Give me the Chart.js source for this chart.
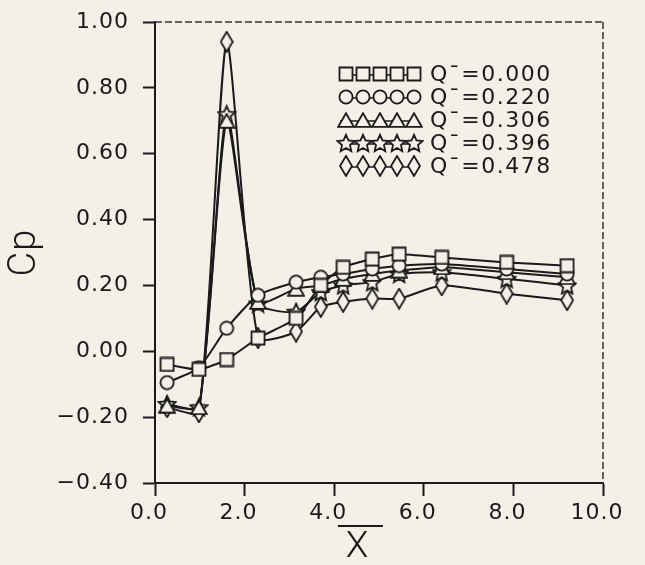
<!DOCTYPE html>
<html>
<head>
<meta charset="utf-8">
<script src="https://cdn.jsdelivr.net/npm/chart.js@4.4.0/dist/chart.umd.min.js"></script>
<style>
html,body{margin:0;padding:0;background:#f4f0e8;}
#wrap{width:645px;height:565px;position:relative;}
canvas{display:block;}
</style>
</head>
<body>
<div id="wrap"><canvas id="c" width="645" height="565"></canvas></div>
<script>
// ---------------- data ----------------
const xStations = [0.27, 0.98, 1.6, 2.3, 3.15, 3.7, 4.2, 4.85, 5.45, 6.4, 7.85, 9.2];
const seriesLabels = ['Q\u00AF=0.000', 'Q\u00AF=0.220', 'Q\u00AF=0.306', 'Q\u00AF=0.396', 'Q\u00AF=0.478'];
const cpQ000 = [-0.04, -0.055, -0.025, 0.04, 0.10, 0.20, 0.255, 0.28, 0.295, 0.285, 0.27, 0.26];
const cpQ220 = [-0.095, -0.05, 0.07, 0.17, 0.21, 0.225, 0.235, 0.25, 0.26, 0.265, 0.25, 0.235];
const cpQ306 = [-0.165, -0.17, 0.70, 0.15, 0.19, 0.20, 0.22, 0.235, 0.245, 0.255, 0.24, 0.225];
const cpQ396 = [-0.16, -0.17, 0.72, 0.145, 0.12, 0.18, 0.20, 0.21, 0.235, 0.24, 0.22, 0.20];
const cpQ478 = [-0.17, -0.185, 0.94, 0.04, 0.06, 0.135, 0.15, 0.16, 0.16, 0.20, 0.175, 0.155];
const xTickValues = [0, 2, 4, 6, 8, 10];
const xTickLabels = ['0.0', '2.0', '4.0', '6.0', '8.0', '10.0'];
const yTickValues = [-0.4, -0.2, 0, 0.2, 0.4, 0.6, 0.8, 1.0];
const yTickLabels = ['\u22120.40', '\u22120.20', '0.00', '0.20', '0.40', '0.60', '0.80', '1.00'];
const xTitle = 'X';
const yTitle = 'Cp';

// ---------------- style ----------------
const PAPER = '#f4f0e8';
const INK = '#1a1a1a';
const markerKinds = ['square', 'circle', 'triangle', 'star', 'diamond'];

function makeMarker(kind) {
  const c = document.createElement('canvas');
  let w = 16, h = 16;
  if (kind === 'star') { w = 20; h = 20; }
  if (kind === 'diamond') { w = 14; h = 22; }
  if (kind === 'triangle') { w = 18; h = 16; }
  c.width = w; c.height = h;
  const g = c.getContext('2d');
  g.lineWidth = 1.8; g.strokeStyle = INK; g.fillStyle = PAPER; g.lineJoin = 'miter';
  g.beginPath();
  if (kind === 'square') g.rect(1.5, 1.5, 13, 13);
  if (kind === 'circle') g.arc(8, 8, 6.6, 0, Math.PI * 2);
  if (kind === 'triangle') { g.moveTo(9, 1.2); g.lineTo(16.8, 14.8); g.lineTo(1.2, 14.8); g.closePath(); }
  if (kind === 'star') {
    for (let i = 0; i < 10; i++) {
      const r = i % 2 ? 4.2 : 9;
      const a = -Math.PI / 2 + i * Math.PI / 5;
      const px = 10 + r * Math.cos(a), py = 10.8 + r * Math.sin(a);
      if (i) g.lineTo(px, py); else g.moveTo(px, py);
    }
    g.closePath();
  }
  if (kind === 'diamond') { g.moveTo(7, 1); g.lineTo(13, 11); g.lineTo(7, 21); g.lineTo(1, 11); g.closePath(); }
  g.fill(); g.stroke();
  return c;
}
const markers = markerKinds.map(makeMarker);
const seriesValues = [cpQ000, cpQ220, cpQ306, cpQ396, cpQ478];

const datasets = seriesValues.map((vals, i) => ({
  label: seriesLabels[i],
  data: xStations.map((x, k) => ({ x: x, y: vals[k] })),
  borderColor: INK,
  borderWidth: 2,
  pointStyle: markers[i],
  pointRadius: 8,
  pointHoverRadius: 8,
  tension: 0.2,
  fill: false
}));

const FONT = '"DejaVu Sans", "Liberation Sans", sans-serif';

const decorPlugin = {
  id: 'decor',
  beforeDraw(chart) {
    chart.ctx.letterSpacing = '1px';
  },
  afterDraw(chart) {
    const ctx = chart.ctx;
    const a = chart.chartArea;
    ctx.save();
    // dashed top and right frame
    ctx.strokeStyle = '#333';
    ctx.lineWidth = 1.5;
    ctx.setLineDash([7, 3]);
    ctx.beginPath();
    ctx.moveTo(a.left, a.top); ctx.lineTo(a.right, a.top);
    ctx.moveTo(a.right, a.top); ctx.lineTo(a.right, a.bottom);
    ctx.stroke();
    ctx.setLineDash([]);
    // x title with overbar
    ctx.fillStyle = INK;
    ctx.letterSpacing = '0px';
    ctx.font = '300 37px Roboto, "Liberation Sans", sans-serif';
    ctx.textAlign = 'center';
    ctx.textBaseline = 'middle';
    ctx.fillText(xTitle, 357, 548);
    ctx.strokeStyle = INK;
    ctx.lineWidth = 2;
    ctx.beginPath(); ctx.moveTo(338, 526); ctx.lineTo(383, 526); ctx.stroke();
    // legend
    ctx.letterSpacing = '1.5px';
    ctx.font = '22px ' + FONT;
    ctx.textAlign = 'left';
    seriesLabels.forEach((lab, i) => {
      const y = 74 + i * 23;
      ctx.strokeStyle = INK; ctx.lineWidth = 1.6;
      ctx.beginPath(); ctx.moveTo(340, y + 1); ctx.lineTo(418, y + 1); ctx.stroke();
      const m = markers[i];
      for (let k = 0; k < 5; k++) {
        const cx = 346 + k * 17;
        ctx.drawImage(m, cx - m.width / 2, y - m.height / 2);
      }
      ctx.fillStyle = INK;
      ctx.fillText(lab, 430, y + 1);
    });
    ctx.restore();
  }
};

new Chart(document.getElementById('c'), {
  type: 'line',
  data: { datasets: datasets },
  plugins: [decorPlugin],
  options: {
    responsive: false,
    animation: false,
    events: [],
    layout: { padding: { top: 22, right: 42, left: 0, bottom: 0 } },
    plugins: { legend: { display: false }, tooltip: { enabled: false } },
    scales: {
      x: {
        type: 'linear', min: 0, max: 10,
        afterBuildTicks: s => { s.ticks = xTickValues.map(v => ({ value: v })); },
        afterFit: s => { s.height = 82; s.paddingLeft = 0; s.paddingRight = 0; },
        ticks: {
          callback: (v, i) => xTickLabels[i],
          font: { family: FONT, size: 22 }, color: INK,
          padding: 4, labelOffset: -6, maxRotation: 0, autoSkip: false
        },
        grid: { drawOnChartArea: false, drawTicks: true, tickLength: 13, tickWidth: 2, tickColor: INK },
        border: { display: true, color: INK, width: 2 },
        title: { display: false }
      },
      y: {
        type: 'linear', min: -0.4, max: 1.0,
        afterBuildTicks: s => { s.ticks = yTickValues.map(v => ({ value: v })); },
        afterFit: s => { s.width = 155; s.paddingTop = 0; s.paddingBottom = 0; },
        ticks: {
          callback: (v, i) => yTickLabels[i],
          font: { family: FONT, size: 22 }, color: INK,
          padding: 14, autoSkip: false
        },
        grid: { drawOnChartArea: false, drawTicks: true, tickLength: 12, tickWidth: 2, tickColor: INK },
        border: { display: true, color: INK, width: 2 },
        title: {
          display: true, text: yTitle, color: INK,
          font: { family: 'Roboto, "Liberation Sans", sans-serif', size: 38, weight: '300', lineHeight: 1 },
          padding: { top: 6, bottom: 0 }
        }
      }
    }
  }
});
</script>
</body>
</html>
